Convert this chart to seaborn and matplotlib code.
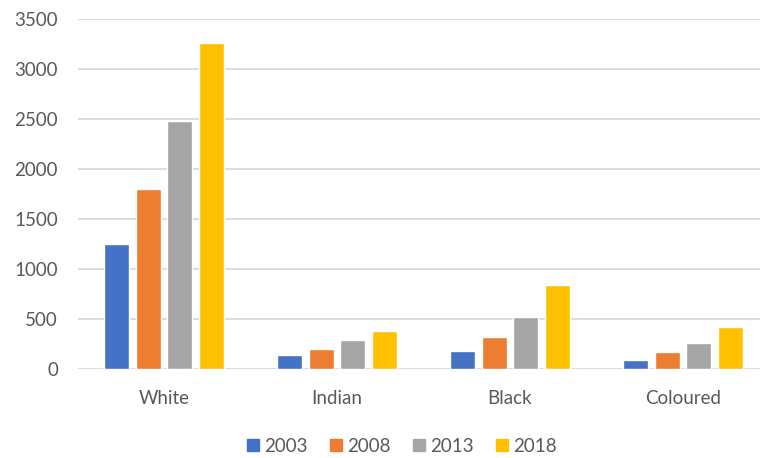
import pandas as pd
import matplotlib
matplotlib.use('Agg')
import matplotlib.pyplot as plt
import seaborn as sns
from matplotlib.lines import Line2D

# Datos
grupos = ['White', 'Indian', 'Black', 'Coloured']
anios = ['2003', '2008', '2013', '2018']
v2003 = [1250, 140, 185, 90]
v2008 = [1800, 205, 325, 166]
v2013 = [2480, 290, 520, 265]
v2018 = [3265, 376, 845, 425]
colores = ['#4472C4', '#ED7D31', '#A5A5A5', '#FFC000']

df = pd.DataFrame({'grupo': grupos * 4,
                   'anio': sum([[a] * 4 for a in anios], []),
                   'valor': v2003 + v2008 + v2013 + v2018})

sns.set_style('white')
plt.rcParams['font.family'] = ['Lato', 'DejaVu Sans']

fig = plt.figure(figsize=(7.6, 4.58), dpi=100)
ax = fig.add_axes([77.5 / 760, 1 - 369 / 458, 692 / 760, 350 / 458])

sns.barplot(data=df, x='grupo', y='valor', hue='anio', palette=colores,
            saturation=1, width=0.73, gap=0.22, ax=ax, legend=False, zorder=3)

ax.set_xlim(-0.5, 3.5)
ax.set_ylim(0, 3500)
ax.set_yticks(range(0, 3501, 500))
ax.grid(axis='y', color='#D9D9D9', linewidth=1.3, zorder=0)
ax.set_axisbelow(True)
for s in ax.spines.values():
    s.set_visible(False)
ax.set(xlabel=None, ylabel=None)
ax.tick_params(axis='x', length=0, pad=15, labelsize=13.5, labelcolor='#595959')
ax.tick_params(axis='y', length=0, pad=14, labelsize=13.5, labelcolor='#595959')

handles = [Line2D([], [], marker='s', linestyle='', markersize=9,
                  markerfacecolor=c, markeredgecolor=c) for c in colores]
fig.legend(handles, anios, loc='center', bbox_to_anchor=(400 / 760, 1 - 446 / 458),
           ncol=4, frameon=False, fontsize=13.5, labelcolor='#595959',
           handletextpad=0.1, columnspacing=1.0, handlelength=1.0)

fig.savefig('out.png', dpi=100)
